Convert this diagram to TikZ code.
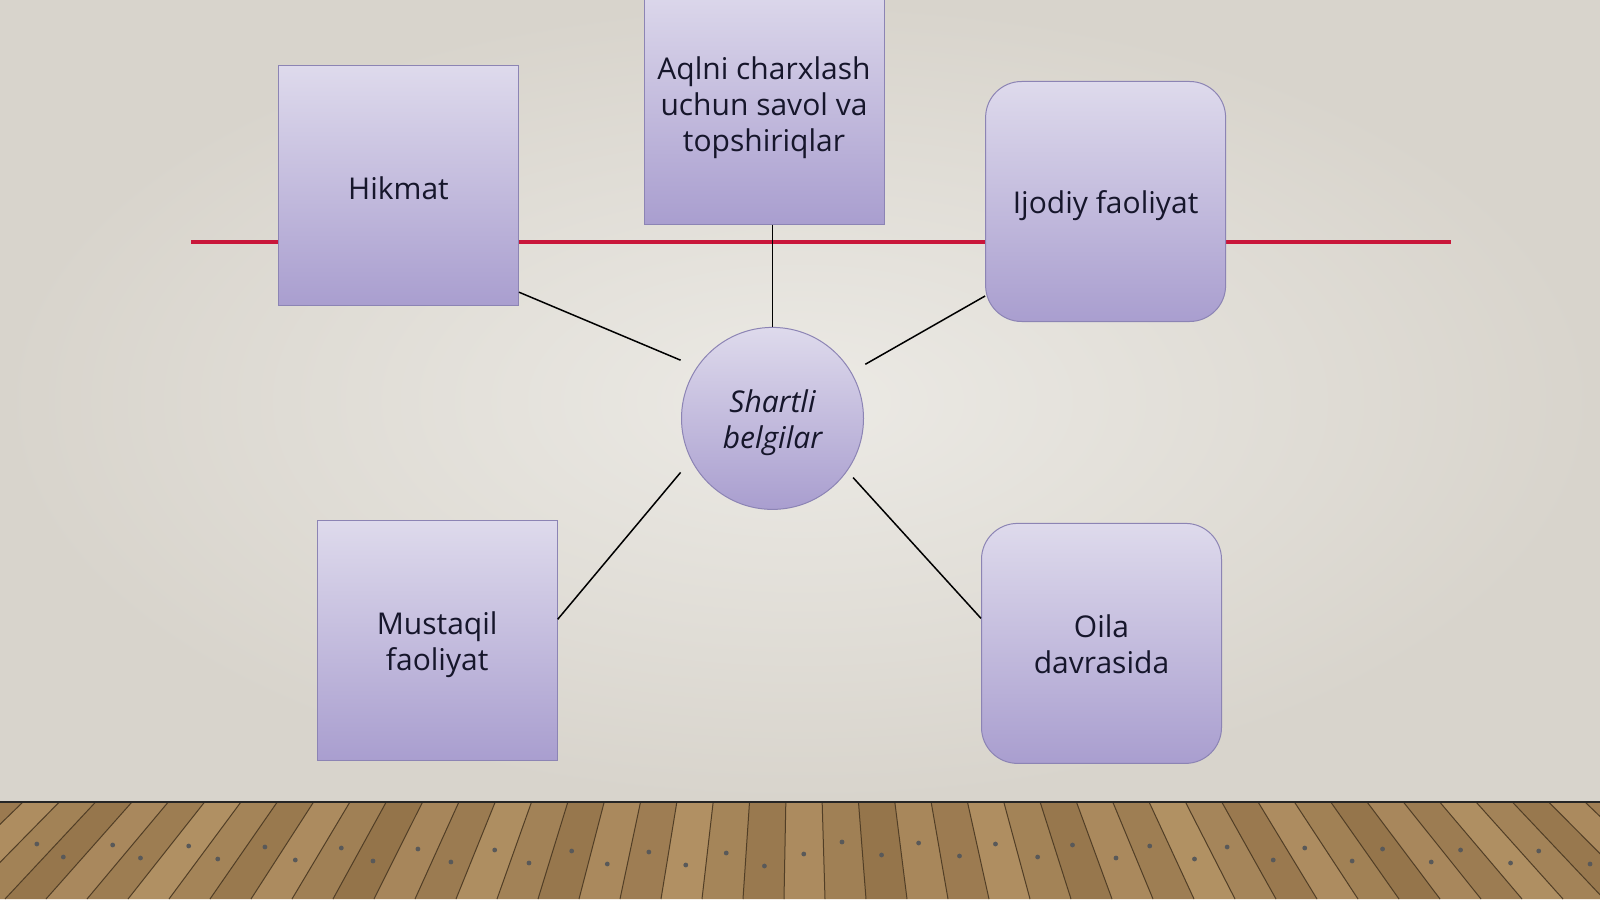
\documentclass[tikz,border=0pt]{standalone}
\usepackage{fontspec}
\setmainfont{Open Sans}
\usetikzlibrary{positioning}
\definecolor{wall}{HTML}{ECEAE5}
\definecolor{walledge}{HTML}{D8D4CC}
\definecolor{boxtop}{HTML}{DEDAEC}
\definecolor{boxbot}{HTML}{A99ECF}
\definecolor{boxline}{HTML}{8C84B4}
\definecolor{redline}{HTML}{C9163A}
\definecolor{inktext}{HTML}{16162B}
\definecolor{woodA}{HTML}{9C7B4E}
\definecolor{woodB}{HTML}{BA996B}
\definecolor{woodC}{HTML}{87673F}
\tikzset{
  txt/.style={align=center, text=inktext, font=\fontsize{15}{18}\selectfont, yshift=-2pt},
  card/.style={draw=boxline, line width=0.5pt, top color=boxtop, bottom color=boxbot, minimum width=120pt, minimum height=120pt},
  roundcard/.style={card, rounded corners=18pt},
  hub/.style={circle, draw=boxline, line width=0.5pt, top color=boxtop, bottom color=boxbot, minimum size=91pt, inner sep=0pt},
  link/.style={black, line width=0.75pt}
}

\begin{document}
\begin{tikzpicture}[x=0.5pt, y=-0.5pt]
\useasboundingbox (0,0) rectangle (1600,899);
\shade[inner color=wall, outer color=walledge] (0,0) rectangle (1600,802);
\fill[woodA] (0,802) rectangle (1600,899);
\begin{scope}
\clip (0,802) rectangle (1600,899);
\foreach \i in {0,...,49} {
  \pgfmathsetmacro\xa{-200+\i*41}
  \pgfmathsetmacro\xb{\xa+41}
  \pgfmathsetmacro\ta{\xa+(800-\xa)*0.114}
  \pgfmathsetmacro\tb{\xb+(800-\xb)*0.114}
  \pgfmathtruncatemacro\p{mod(\i*37,60)+25}
  \fill[woodB!\p!woodC] (\xa,899) -- (\xb,899) -- (\tb,802) -- (\ta,802) -- cycle;
  \draw[woodC!60!black, line width=0.5pt] (\xa,899) -- (\ta,802);
  \pgfmathsetmacro\ny{842+mod(\i*13,25)}
  \pgfmathsetmacro\nx{\xa+20+(800-\xa-20)/849*(899-\ny)}
  \fill[black!65] (\nx,\ny) circle (1.2pt);
}
\end{scope}
\draw[black!85, line width=1pt] (0,802) -- (1600,802);
\draw[redline, line width=2pt] (191,242) -- (1451,242);
\node[card, label={[txt, yshift=0.8pt]center:Hikmat}] (hikmat) at (398.5,185.7) {};
\node[card, label={[txt]center:Aqlni charxlash\\uchun savol va\\topshiriqlar}] (aqlni) at (764,104) {};
\node[roundcard, label={[txt]center:Ijodiy faoliyat}] (ijodiy) at (1105.6,201.5) {};
\node[card, label={[txt]center:Mustaqil\\faoliyat}] (mustaqil) at (437.2,640.3) {};
\node[roundcard, label={[txt, yshift=1.8pt]center:Oila\\davrasida}] (oila) at (1101.5,643.4) {};
\node[hub, label={[txt, font=\fontsize{15}{18}\selectfont\itshape]center:Shartli\\belgilar}] (shartli) at (772.5,418.4) {};
\coordinate (hk) at (680.6,360.2);
\coordinate (ij) at (865.3,364.3);
\coordinate (ms) at (680.6,472.4);
\coordinate (ol) at (853.1,477.6);
\draw[link] ([yshift=7pt]hikmat.south east) -- (hk);
\draw[link] (shartli.north |- aqlni.south) -- (shartli.north);
\draw[link] ([yshift=13pt]ijodiy.south west) -- (ij);
\draw[link] ([yshift=10.5pt]mustaqil.east) -- (ms);
\draw[link] ([yshift=12.5pt]oila.west) -- (ol);
\end{tikzpicture}
\end{document}
